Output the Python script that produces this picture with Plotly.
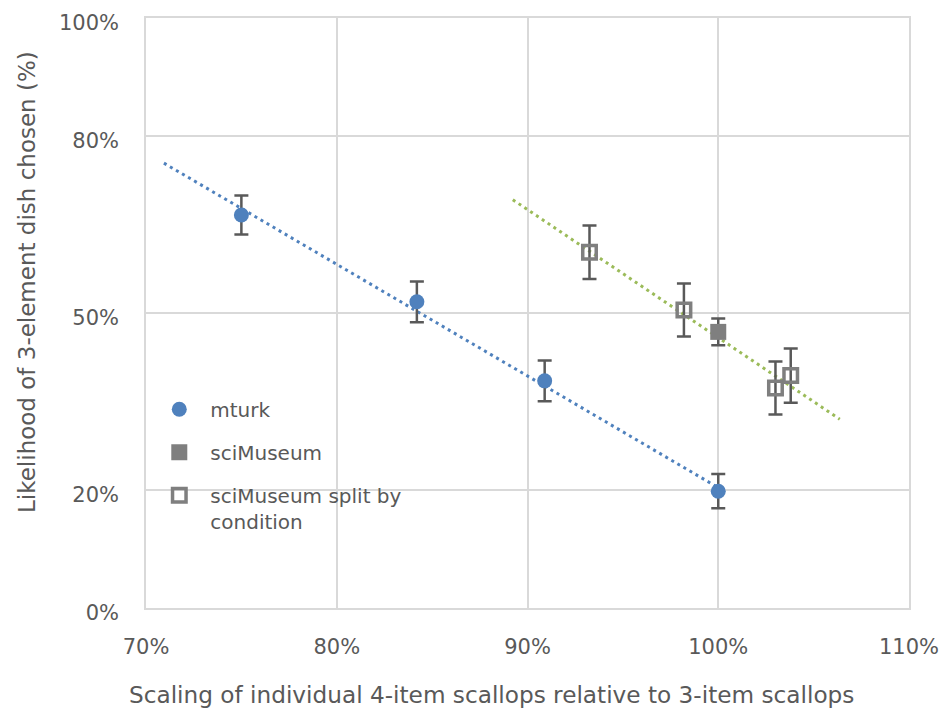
import plotly.graph_objects as go

# ---- data ----
mturk_x = [75.0, 84.2, 90.9, 100.0]
mturk_y = [66.6, 51.9, 38.5, 19.8]
mturk_err = [3.3, 3.45, 3.45, 2.9]

sci_x = [100.0]
sci_y = [46.8]
sci_err = [2.25]

split_x = [93.25, 98.2, 103.0, 103.8]
split_y = [60.3, 50.5, 37.3, 39.4]
split_err = [4.55, 4.5, 4.5, 4.6]

mturk_trend_x = [70.94, 100.0]
mturk_trend_y = [75.4, 20.4]
sci_trend_x = [89.23, 106.37]
sci_trend_y = [69.2, 32.0]

x_ticks = [70, 80, 90, 100, 110]
x_tick_labels = ["70%", "80%", "90%", "100%", "110%"]
y_ticks = [0, 20, 50, 80, 100]
y_tick_labels = ["0%", "20%", "50%", "80%", "100%"]

# ---- styles ----
FONT = "DejaVu Sans"
TEXT = "#595959"
GRID = "#D9D9D9"
BLUE = "#4F81BD"
GREEN = "#9BBB59"
GRAY = "#7F7F7F"
ERR = "#595959"

fig = go.Figure()

fig.add_trace(go.Scatter(
    x=mturk_trend_x, y=mturk_trend_y, mode="lines",
    line=dict(color=BLUE, width=3, dash="3px,4px"),
    showlegend=False, hoverinfo="skip"))
fig.add_trace(go.Scatter(
    x=sci_trend_x, y=sci_trend_y, mode="lines",
    line=dict(color=GREEN, width=3, dash="3px,4px"),
    showlegend=False, hoverinfo="skip"))

fig.add_trace(go.Scatter(
    x=mturk_x, y=mturk_y, mode="markers", name="mturk", legendgroup="a",
    marker=dict(symbol="circle", size=15, color=BLUE, line=dict(width=0)),
    error_y=dict(type="data", array=mturk_err, color=ERR, thickness=2.5, width=7)))
fig.add_trace(go.Scatter(
    x=sci_x, y=sci_y, mode="markers", name="sciMuseum", legendgroup="b",
    marker=dict(symbol="square", size=16, color=GRAY, line=dict(width=0)),
    error_y=dict(type="data", array=sci_err, color=ERR, thickness=2.5, width=7)))
fig.add_trace(go.Scatter(
    x=split_x, y=split_y, mode="markers", name="sciMuseum split by<br>condition",
    legendgroup="c",
    marker=dict(symbol="square-open", size=13.5, color=GRAY, line=dict(width=3.5, color=GRAY)),
    error_y=dict(type="data", array=split_err, color=ERR, thickness=2.5, width=7)))

fig.update_layout(
    width=941, height=710,
    margin=dict(l=146, r=32, t=18, b=102, autoexpand=False),
    paper_bgcolor="white", plot_bgcolor="white",
    font=dict(family=FONT, color=TEXT, size=21),
    showlegend=True,
    legend=dict(
        x=0.003, y=0.370, xanchor="left", yanchor="top",
        bgcolor="rgba(0,0,0,0)", borderwidth=0,
        font=dict(family=FONT, size=20, color=TEXT),
        itemwidth=52, tracegroupgap=14, valign="top",
    ),
    xaxis=dict(
        range=[70, 110], tickvals=x_ticks, ticktext=x_tick_labels,
        showgrid=True, gridcolor=GRID, gridwidth=1.5,
        zeroline=False, showline=True, mirror=True, linecolor=GRID, linewidth=1.5,
        automargin=False,
        ticks="outside", ticklen=19, tickcolor="rgba(0,0,0,0)",
        tickfont=dict(family=FONT, size=21, color=TEXT),
    ),
    yaxis=dict(
        range=[0, 100], tickvals=y_ticks, ticktext=y_tick_labels,
        showgrid=True, gridcolor=GRID, gridwidth=1.5,
        zeroline=False, showline=True, mirror=True, linecolor=GRID, linewidth=1.5,
        automargin=False,
        ticks="outside", ticklen=21, tickcolor="rgba(0,0,0,0)",
        ticklabelshift=5,
        tickfont=dict(family=FONT, size=21, color=TEXT),
    ),
    annotations=[
        dict(text="Likelihood of 3-element dish chosen (%)", textangle=-90,
             xref="paper", yref="paper", x=(27 - 146) / 763, y=(608 - 282) / 590,
             xanchor="center", yanchor="middle", showarrow=False,
             font=dict(family=FONT, size=23, color=TEXT)),
        dict(text="Scaling of individual 4-item scallops relative to 3-item scallops",
             xref="paper", yref="paper", x=(491 - 146) / 763, y=-(694 - 608) / 590,
             xanchor="center", yanchor="middle", showarrow=False,
             font=dict(family=FONT, size=23.2, color=TEXT)),
    ],
)

fig.write_html("out.html")
